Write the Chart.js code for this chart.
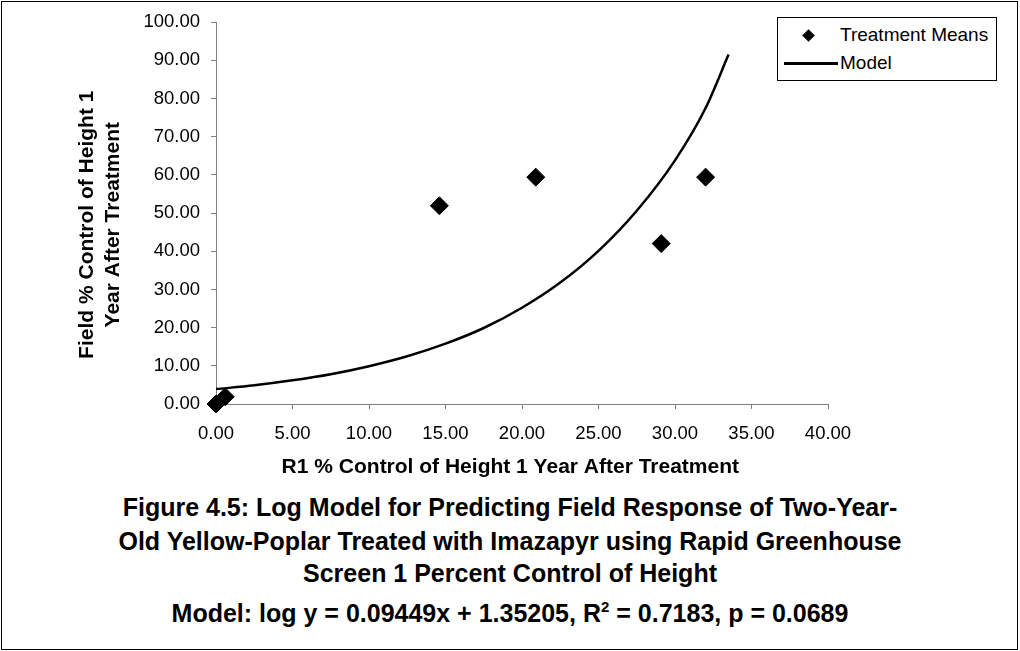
<!DOCTYPE html>
<html>
<head>
<meta charset="utf-8">
<script src="https://cdn.jsdelivr.net/npm/chart.js@4"></script>
<style>
  body { margin: 0; background: #fff; font-family: "Liberation Sans", Arial, sans-serif; }
  #frame { position: absolute; left: 1px; top: 1px; width: 1017px; height: 649px; border: 1px solid #000; box-sizing: border-box; }
  #chart { position: absolute; left: 0; top: 0; }
  #legend { position: absolute; left: 777px; top: 17px; width: 220px; height: 64px; border: 1px solid #000; box-sizing: border-box; background: #fff; font-size: 19px; color: #000; }
  #legend .row { position: absolute; left: 62px; }
  #legend .diamond { position: absolute; left: 26px; top: 13px; width: 9px; height: 9px; background: #000; transform: rotate(45deg); }
  #legend .line { position: absolute; left: 6px; top: 44px; width: 54px; height: 2.5px; background: #000; }
  .cap { position: absolute; left: 0; width: 1020px; text-align: center; font-weight: bold; font-size: 25px; color: #000; line-height: 28px; }
  .cap sup { font-size: 15px; vertical-align: 10px; line-height: 0; }
</style>
</head>
<body>
<div id="frame"></div>
<canvas id="chart" width="1020" height="490"></canvas>
<div id="legend">
  <div class="diamond"></div><div class="row" style="top:6px">Treatment Means</div>
  <div class="line"></div><div class="row" style="top:34px">Model</div>
</div>
<div class="cap" style="top:493px">Figure 4.5: Log Model for Predicting Field Response of Two-Year-</div>
<div class="cap" style="top:527px">Old Yellow-Poplar Treated with Imazapyr using Rapid Greenhouse</div>
<div class="cap" style="top:559px">Screen 1 Percent Control of Height</div>
<div class="cap" style="top:599px">Model: log y = 0.09449x + 1.35205, R<sup>2</sup> = 0.7183, p = 0.0689</div>
<script>
// treatment means
const treatmentX = [0, 0.6, 14.6, 20.9, 29.1, 32.0];
const treatmentY = [0, 1.9, 51.9, 59.4, 42.0, 59.4];

// model curve
const modelX = [0, 2.5, 5, 7.5, 10, 12.5, 15, 17.5, 20, 22.5, 25, 27.5, 30, 32, 33.5];
const modelY = [3.9, 4.9, 6.2, 7.8, 9.9, 12.5, 15.8, 19.9, 25.2, 31.8, 40.1, 50.6, 63.8, 77.5, 91.5];

// trailing spaces nudge the centred titles to where the original sits
const xTitle = "R1 % Control of Height 1 Year After Treatment    ";
const yTitle = ["Field % Control of Height 1    ", "Year After Treatment    "];

function toPoints(xs, ys) {
    return xs.map((x, i) => ({ x: x, y: ys[i] }));
}

const axisGray = "#808080";
const tickFont = { family: "'Liberation Sans', Arial, sans-serif", size: 18.5 };
const titleFont = { family: "'Liberation Sans', Arial, sans-serif", size: 21, weight: "bold", lineHeight: 1.24 };

const ctx = document.getElementById("chart").getContext("2d");

new Chart(ctx, {
    type: "scatter",
    data: {
        datasets: [{
            label: "Treatment Means",
            data: toPoints(treatmentX, treatmentY),
            pointStyle: "rectRot",
            pointRadius: 9,
            pointHoverRadius: 9,
            backgroundColor: "#000",
            borderColor: "#000",
            borderWidth: 1,
            clip: false,
            order: 0
        }, {
            label: "Model",
            data: toPoints(modelX, modelY),
            showLine: true,
            pointRadius: 0,
            borderColor: "#000",
            borderWidth: 2.5,
            cubicInterpolationMode: "monotone",
            clip: false,
            order: 1
        }]
    },
    options: {
        responsive: false,
        animation: false,
        devicePixelRatio: 1,
        layout: { padding: { left: 0, top: 21, right: 192, bottom: 0 } },
        plugins: {
            legend: { display: false },
            tooltip: { enabled: false }
        },
        scales: {
            x: {
                type: "linear",
                min: 0,
                max: 40,
                afterFit: function (scale) { scale.height = 86; },
                ticks: {
                    stepSize: 5,
                    color: "#000",
                    font: tickFont,
                    padding: 14,
                    maxRotation: 0,
                    callback: v => v.toFixed(2)
                },
                grid: { drawOnChartArea: false, drawTicks: true, tickLength: 5, color: axisGray },
                border: { display: true, color: axisGray, width: 1 },
                title: { display: true, text: xTitle, color: "#000", font: titleFont, padding: { top: 0, bottom: 10 } }
            },
            y: {
                type: "linear",
                min: 0,
                max: 100,
                afterFit: function (scale) { scale.width = 216; },
                ticks: {
                    stepSize: 10,
                    color: "#000",
                    font: tickFont,
                    padding: 11,
                    callback: v => v.toFixed(2)
                },
                grid: { drawOnChartArea: false, drawTicks: true, tickLength: 5, color: axisGray },
                border: { display: true, color: axisGray, width: 1 },
                title: { display: true, text: yTitle, color: "#000", font: titleFont, padding: { top: 74, bottom: 0 } }
            }
        }
    }
});
</script>
</body>
</html>
